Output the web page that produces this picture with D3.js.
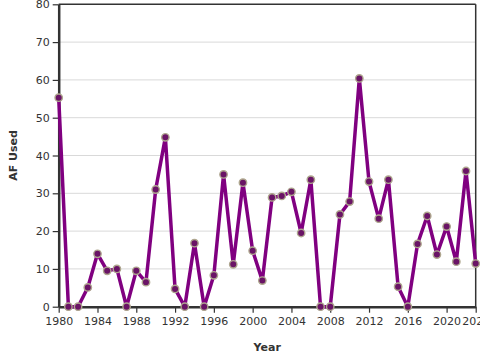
<!DOCTYPE html>
<html><head><meta charset="utf-8">
<script src="https://cdn.jsdelivr.net/npm/d3@7"></script>
<style>body{margin:0;background:#fff;}svg{display:block;font-family:"DejaVu Sans",sans-serif;}</style>
</head><body><svg id="c" width="480" height="360"></svg>
<script>
const years = d3.range(1980, 2024);
const afUsed = [55.3,0,0,5.1,14,9.5,10,0,9.5,6.5,31,44.8,4.7,0,16.8,0,8.3,35,11.2,32.8,14.8,6.9,28.9,29.3,30.4,19.5,33.6,0,0,24.4,27.8,60.4,33.1,23.3,33.6,5.3,0,16.6,24.0,13.8,21.2,11.9,35.9,11.4];
const xTicks = [1980,1984,1988,1992,1996,2000,2004,2008,2012,2016,2020,2023];
const yTicks = [0,10,20,30,40,50,60,70,80];

const svg = d3.select("#c");
const L=58.7, R=475.7, T=4.3, B=306.7;
const x = d3.scaleLinear().domain([1980,2023]).range([L,R]);
const y = d3.scaleLinear().domain([0,80]).range([B,T]);

// grid
svg.append("g").selectAll("line").data(yTicks.filter(d=>d>0 && d<80)).join("line")
  .attr("x1",L).attr("x2",R).attr("y1",d=>y(d)).attr("y2",d=>y(d))
  .attr("stroke","#d9d9d9").attr("stroke-width",1);

// frame top/right
svg.append("line").attr("x1",L).attr("x2",R).attr("y1",T).attr("y2",T).attr("stroke","#333").attr("stroke-width",1.5);
svg.append("line").attr("x1",R).attr("x2",R).attr("y1",T).attr("y2",B).attr("stroke","#333").attr("stroke-width",1.5);

// axes
const yAxis = svg.append("g").attr("transform",`translate(${L},0)`)
  .call(d3.axisLeft(y).tickValues(yTicks).tickSize(6).tickSizeOuter(0).tickFormat(d3.format("d")));
const xAxis = svg.append("g").attr("transform",`translate(0,${B})`)
  .call(d3.axisBottom(x).tickValues(xTicks).tickSize(6).tickSizeOuter(0).tickFormat(d3.format("d")));
[yAxis,xAxis].forEach(a=>{
  a.select(".domain").attr("stroke","#333").attr("stroke-width",2.5);
  a.selectAll(".tick line").attr("stroke","#333").attr("stroke-width",1.2);
  a.selectAll(".tick text").attr("fill","#333").attr("font-size",11).attr("font-family","DejaVu Sans, sans-serif");
});
yAxis.selectAll(".tick text").attr("x",-9);
xAxis.selectAll(".tick text").attr("y",11);

// line
const pts = years.map((yr,i)=>({yr, v:afUsed[i]}));
svg.append("path").datum(pts)
  .attr("fill","none").attr("stroke","#800080").attr("stroke-width",3.5).attr("stroke-linejoin","round")
  .attr("d", d3.line().x(d=>x(d.yr)).y(d=>y(d.v)));

svg.append("g").selectAll("circle").data(pts).join("circle")
  .attr("cx",d=>x(d.yr)).attr("cy",d=>y(d.v)).attr("r",3.7)
  .attr("fill","#6a1466").attr("stroke","#aea68e").attr("stroke-width",1.4);

// labels
svg.append("text").attr("x",(L+R)/2).attr("y",351).attr("text-anchor","middle")
  .attr("font-size",11).attr("font-weight","bold").attr("fill","#333").text("Year");
svg.append("text").attr("transform",`translate(17,${(T+B)/2}) rotate(-90)`).attr("text-anchor","middle")
  .attr("font-size",11).attr("font-weight","bold").attr("fill","#333").text("AF Used");
</script></body></html>
